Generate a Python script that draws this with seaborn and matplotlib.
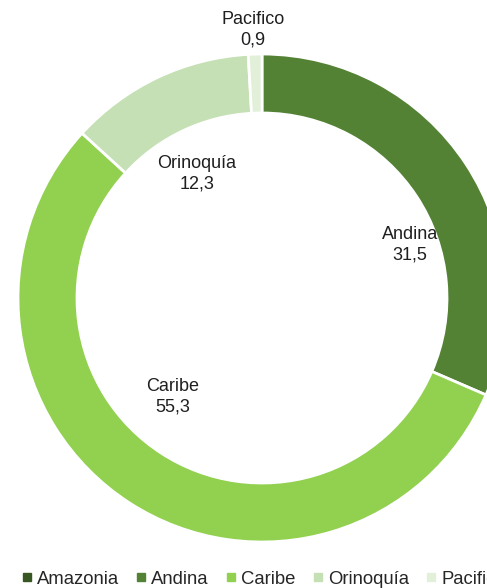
import matplotlib
matplotlib.use("Agg")
import matplotlib.pyplot as plt
import seaborn as sns
from matplotlib.lines import Line2D

regions = ["Amazonia", "Andina", "Caribe", "Orinoquía", "Pacifico"]
shares = [0.0, 31.5, 55.3, 12.3, 0.9]
value_labels = ["", "31,5", "55,3", "12,3", "0,9"]

colors = ["#385723", "#548235", "#92D050", "#C5E0B4", "#E2F0D9"]

sns.set_style("white")
plt.rcParams['font.family'] = ['Liberation Sans', 'DejaVu Sans']

W, H = 487, 588
fig = plt.figure(figsize=(W / 100, H / 100), dpi=100)
ax = fig.add_axes([0, 0, 1, 1])

# donut geometry in pixels
cx, cy, r_out = 262, 298, 244
ring = 59 / r_out

ax.pie(shares, colors=colors, startangle=90, counterclock=False, radius=1,
       wedgeprops=dict(width=ring, edgecolor='white', linewidth=2))
ax.set_aspect('auto')
ax.set_xlim(-cx / r_out, (W - cx) / r_out)
ax.set_ylim(-(H - cy) / r_out, cy / r_out)
ax.axis('off')

# label positions (pixels from top-left)
label_pos = {"Andina": (410, 245), "Caribe": (173, 397),
             "Orinoquía": (197, 174), "Pacifico": (253, 30)}
for name, val in zip(regions, value_labels):
    if name not in label_pos:
        continue
    px, py = label_pos[name]
    fig.text(px / W, 1 - py / H, f"{name}\n{val}", ha='center', va='center',
             fontsize=13, color='#1f1f1f', linespacing=1.3)

# legend runs off the right edge, as in the source
handles = [Line2D([0], [0], marker='s', linestyle='none', markersize=6,
                  markerfacecolor=c, markeredgecolor=c) for c in colors]
fig.legend(handles, regions, loc='center left', bbox_to_anchor=(22 / W, 1 - 579 / H),
           ncol=5, frameon=False, fontsize=13.3, handlelength=0.5, handletextpad=0.3,
           columnspacing=0.95, borderaxespad=0, borderpad=0)

fig.savefig("out.png", dpi=100)
